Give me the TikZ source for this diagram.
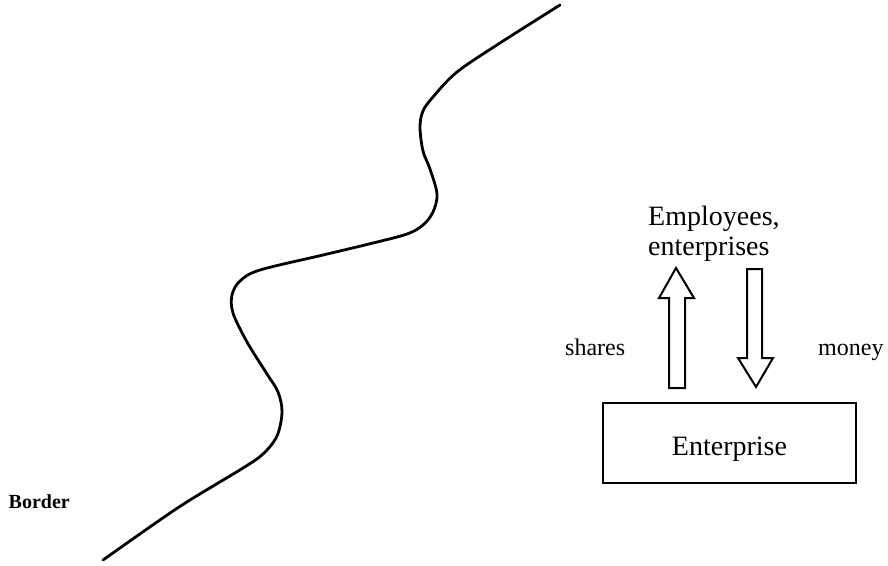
\documentclass[tikz,border=0pt]{standalone}
\usepackage{fontspec}
\setmainfont{Liberation Serif}
\begin{document}
\begin{tikzpicture}[x=1pt,y=-1pt,
  borderline/.style={line width=2.8pt,line cap=round,line join=round},
  blockarrow/.style={draw,line width=2pt,line join=miter,fill=white},
  framebox/.style={draw,line width=1.8pt},
  bigtext/.style={inner sep=0pt,font=\fontsize{28}{30}\selectfont},
  midtext/.style={inner sep=0pt,font=\fontsize{28}{30}\selectfont},
  smalltext/.style={inner sep=0pt,font=\fontsize{24}{26}\selectfont},
  tagtext/.style={inner sep=0pt,font=\bfseries\fontsize{20}{24}\selectfont}]
\useasboundingbox (0,0) rectangle (888,565);

% hand-drawn border line
\draw[borderline] plot[smooth,tension=0.55] coordinates {
  (560,5) (500,43) (457,72) (433,97) (423,111) (420,127) (423,151)
  (430,169) (437,194) (433,212) (423,225) (407,234) (373,243) (323,255)
  (260,270) (240,281) (232,295) (233,313) (247,342) (267,374) (278,392)
  (282,412) (277,436) (263,454) (243,468) (190,500) (157,522) (103,560)};

\node[tagtext,anchor=base east] (border) at (70,508) {Border};

% enterprise and its partners
\node[framebox,minimum width=253pt,minimum height=80pt,inner sep=0pt] (ent) at (729.5,443) {};
\node[midtext,anchor=base] (entlabel) at (729.5,455) {Enterprise};

\node[bigtext,anchor=base west] (emp1) at (648,225) {Employees,};
\node[bigtext,anchor=base west] (emp2) at (648,255) {enterprises};

% shares go up, money comes down
\draw[blockarrow] (669,388) -- (669,298) -- (659,298) -- (676,268) -- (694,298)
  -- (685,298) -- (685,388) -- cycle;
\draw[blockarrow] (747,269) -- (762,269) -- (762,358) -- (773,358) -- (756,387)
  -- (738,358) -- (747,358) -- cycle;

\node[smalltext,anchor=base west] (shares) at (565,355) {shares};
\node[smalltext,anchor=base west] (money) at (818,355) {money};
\end{tikzpicture}
\end{document}
